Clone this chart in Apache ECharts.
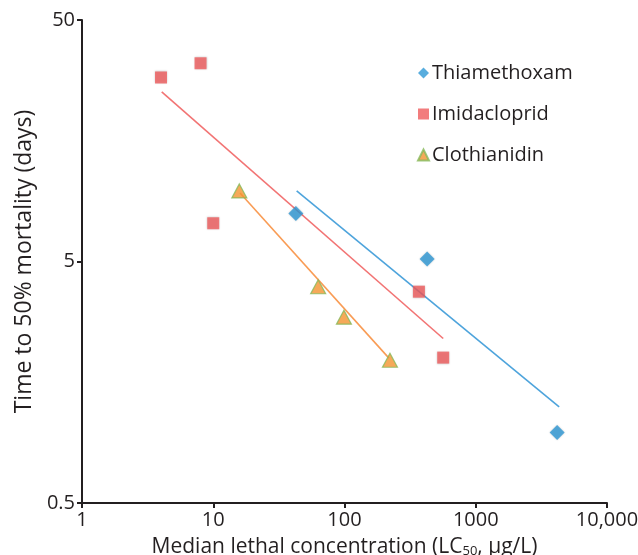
<!DOCTYPE html>
<html>
<head>
<meta charset="utf-8">
<script src="https://cdn.jsdelivr.net/npm/echarts@6/dist/echarts.min.js"></script>
<style>html,body{margin:0;padding:0;background:#fff}#c{width:638px;height:555px}</style>
</head>
<body>
<div id="c"></div>
<script>
// Data (LC50 in µg/L, time to 50% mortality in days)
const seriesNames = ['Thiamethoxam', 'Imidacloprid', 'Clothianidin'];
const thiamethoxam = [[42.6, 7.9], [426, 5.12], [4170, 0.98]];
const imidacloprid = [[4, 28.9], [8, 33.1], [10, 7.2], [369, 3.75], [565, 2.0]];
const clothianidin = [[15.8, 9.8], [63, 3.93], [99, 2.94], [222, 1.95]];
// Trend line endpoints
const thiamethoxamTrend = [[43.2, 9.8], [4320, 1.25]];
const imidaclopridTrend = [[4.05, 25.2], [565, 2.4]];
const clothianidinTrend = [[16, 9.6], [218, 1.99]];
const xTicks = ['1', '10', '100', '1000', '10,000'];
const yTicks = ['0.5', '5', '50'];

const FONT = 'Open Sans';
const INK = '#231f20';
const chart = echarts.init(document.getElementById('c'));
const xLabel = v => {
  const i = Math.round(Math.log10(v));
  return xTicks[i] !== undefined ? xTicks[i] : '';
};
const yLabel = v => {
  const i = Math.round(Math.log10(v / 0.5));
  return yTicks[i] !== undefined ? yTicks[i] : '';
};
chart.setOption({
  animation: false,
  backgroundColor: '#fff',
  grid: { left: 82, right: 31, top: 20, bottom: 52, containLabel: false, outerBoundsMode: 'none' },
  legend: {
    orient: 'vertical',
    left: 412,
    top: 58,
    itemWidth: 11,
    itemHeight: 11,
    itemGap: 21,
    data: seriesNames,
    textStyle: { fontFamily: FONT, fontSize: 20, color: INK, padding: [0, 0, 0, -2] }
  },
  xAxis: {
    type: 'log',
    logBase: 10,
    min: 1,
    max: 10000,
    splitLine: { show: false },
    minorTick: { show: false },
    axisLine: { lineStyle: { color: INK, width: 2 } },
    axisTick: { show: true, length: 5, lineStyle: { color: INK, width: 2 } },
    axisLabel: { formatter: xLabel, fontFamily: FONT, fontSize: 20, color: INK, margin: 7 },
    name: 'Median lethal concentration (LC{sub|50}, μg/L)',
    nameLocation: 'middle',
    nameGap: 33,
    nameTextStyle: {
      fontFamily: FONT, fontSize: 21, color: INK,
      rich: { sub: { fontFamily: FONT, fontSize: 13, color: INK, verticalAlign: 'bottom', padding: [9, 0, 0, 0] } }
    }
  },
  yAxis: {
    type: 'log',
    logBase: 10,
    min: 0.5,
    max: 50,
    interval: 1,
    splitLine: { show: false },
    minorTick: { show: false },
    axisLine: { lineStyle: { color: INK, width: 2 } },
    axisTick: { show: true, length: 5, lineStyle: { color: INK, width: 2 } },
    axisLabel: { formatter: yLabel, fontFamily: FONT, fontSize: 20, color: INK, margin: 7 },
    name: 'Time to 50% mortality (days)',
    nameLocation: 'middle',
    nameGap: 46,
    nameTextStyle: { fontFamily: FONT, fontSize: 23, color: INK }
  },
  series: [
    {
      name: 'Thiamethoxam fit', type: 'line', data: thiamethoxamTrend, symbol: 'none',
      lineStyle: { color: '#4ea4dc', width: 1.6 }, z: 2, silent: true
    },
    {
      name: 'Imidacloprid fit', type: 'line', data: imidaclopridTrend, symbol: 'none',
      lineStyle: { color: '#f27474', width: 1.6 }, z: 2, silent: true
    },
    {
      name: 'Clothianidin fit', type: 'line', data: clothianidinTrend, symbol: 'none',
      lineStyle: { color: '#f99c55', width: 1.6 }, z: 2, silent: true
    },
    {
      name: 'Thiamethoxam', type: 'scatter', data: thiamethoxam, symbol: 'diamond', symbolSize: 15,
      itemStyle: { color: '#2e98d6', shadowBlur: 2, shadowColor: 'rgba(0,0,0,0.25)' }, z: 3
    },
    {
      name: 'Imidacloprid', type: 'scatter', data: imidacloprid, symbol: 'rect', symbolSize: 12,
      itemStyle: { color: '#ef5b5d', shadowBlur: 2, shadowColor: 'rgba(0,0,0,0.25)' }, z: 3
    },
    {
      name: 'Clothianidin', type: 'scatter', data: clothianidin, symbol: 'triangle', symbolSize: [15, 14],
      itemStyle: { color: '#f39330', borderColor: '#86b95a', borderWidth: 1.2 }, z: 3
    }
  ]
});
</script>
</body>
</html>
